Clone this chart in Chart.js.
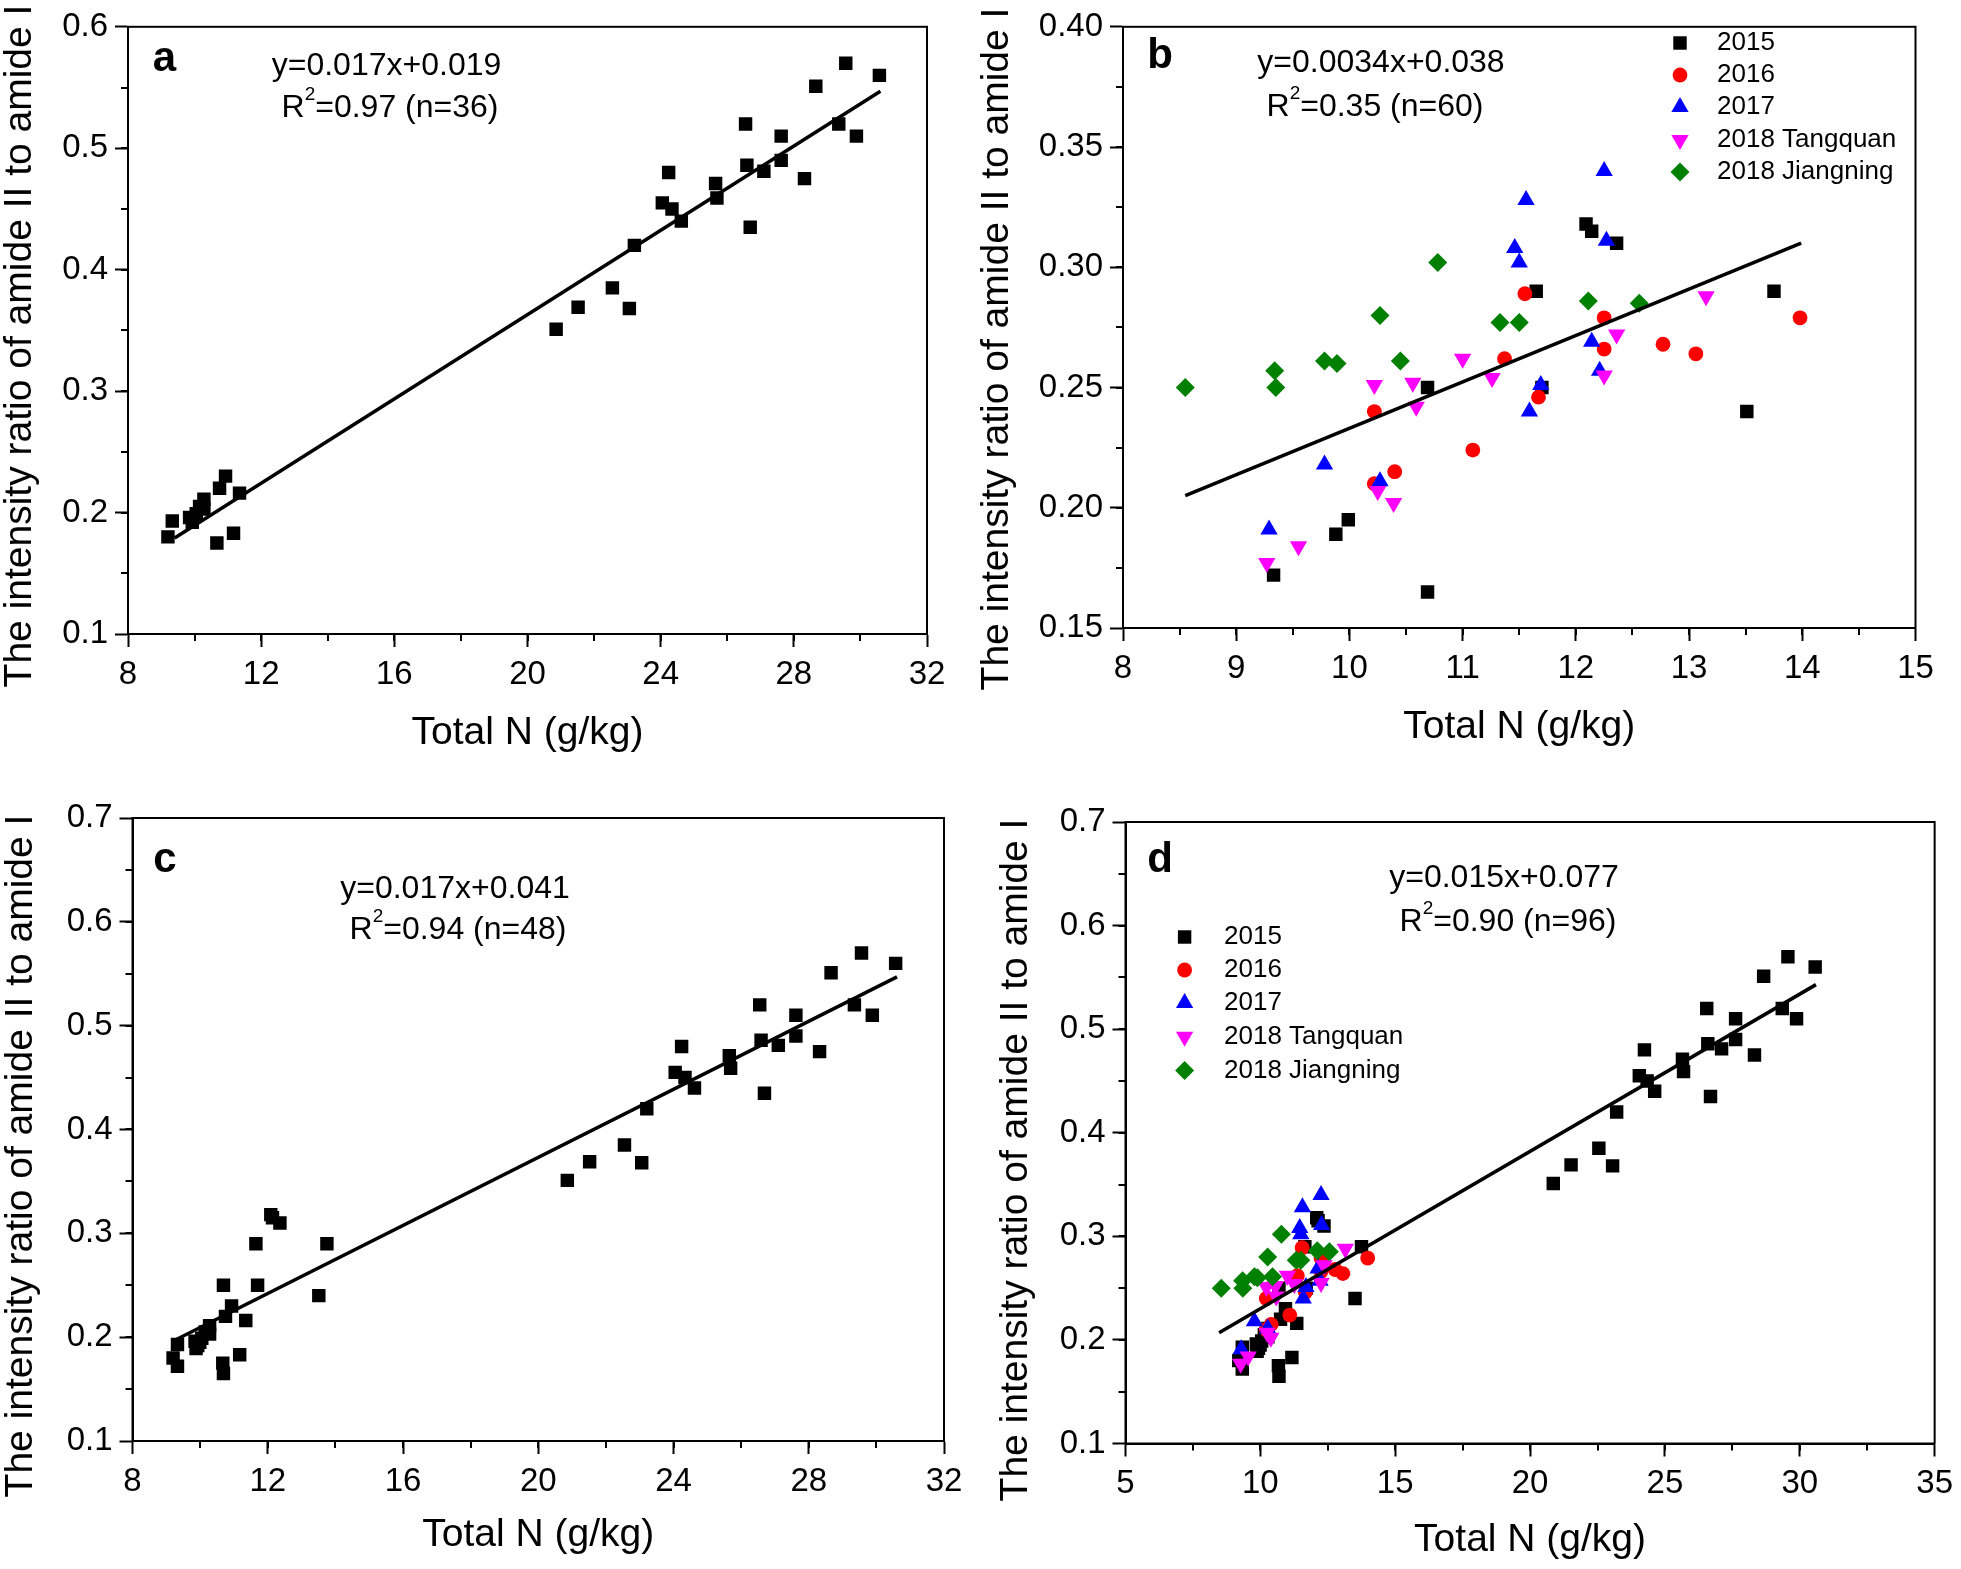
<!DOCTYPE html>
<html><head><meta charset="utf-8">
<script src="https://cdn.jsdelivr.net/npm/chart.js@4.4.1/dist/chart.umd.min.js"></script>
<style>
html,body{margin:0;padding:0;background:#fff;}
body{width:1961px;height:1569px;position:relative;overflow:hidden;}
canvas{position:absolute;}
</style>
</head><body>
<canvas id="ca" width="980" height="780" style="left:0;top:0;width:980px;height:780px"></canvas>
<canvas id="cb" width="981" height="780" style="left:980px;top:0;width:981px;height:780px"></canvas>
<canvas id="cc" width="980" height="789" style="left:0;top:780px;width:980px;height:789px"></canvas>
<canvas id="cd" width="981" height="789" style="left:980px;top:780px;width:981px;height:789px"></canvas>
<script>
const FONT = "'Liberation Sans', Arial, Helvetica, sans-serif";

// ---------- DATA ----------
// Panel a samples (n=36)
const setA_x = [9.20, 9.33, 9.85, 9.93, 10.05, 10.15, 10.28, 10.28, 10.75, 10.93, 11.35, 10.67, 11.17,
  20.86, 21.52, 22.55, 23.06, 23.21, 24.05, 24.24, 24.34, 24.62, 25.65, 25.69, 26.55, 26.59, 26.69,
  27.10, 27.62, 27.62, 28.32, 28.66, 29.35, 29.56, 29.88, 30.57];
const setA_y = [0.180, 0.193, 0.196, 0.192, 0.199, 0.205, 0.211, 0.203, 0.220, 0.230, 0.216, 0.175, 0.183,
  0.351, 0.369, 0.385, 0.368, 0.420, 0.455, 0.480, 0.450, 0.440, 0.471, 0.459, 0.520, 0.486, 0.435,
  0.481, 0.510, 0.490, 0.475, 0.551, 0.520, 0.570, 0.510, 0.560];

const y2015_x = [9.33, 9.88, 9.99, 10.69, 10.69, 11.65, 11.70, 12.09, 12.14, 12.36, 13.51, 13.75];
const y2015_y = [0.172, 0.189, 0.195, 0.250, 0.165, 0.290, 0.250, 0.318, 0.315, 0.310, 0.240, 0.290];

const y2016_x = [10.22, 10.22, 10.40, 11.09, 11.37, 11.55, 11.67, 12.25, 12.25, 12.77, 13.06, 13.98];
const y2016_y = [0.240, 0.210, 0.215, 0.224, 0.262, 0.289, 0.246, 0.279, 0.266, 0.268, 0.264, 0.279];

const y2017_x = [9.29, 9.78, 10.27, 11.46, 11.50, 11.56, 11.59, 11.69, 12.14, 12.21, 12.25, 12.27];
const y2017_y = [0.191, 0.218, 0.211, 0.308, 0.302, 0.328, 0.240, 0.251, 0.269, 0.257, 0.340, 0.311];

const y2018T_x = [9.27, 9.55, 10.22, 10.25, 10.39, 10.56, 10.59, 11.00, 11.26, 12.25, 12.36, 13.15];
const y2018T_y = [0.177, 0.184, 0.251, 0.207, 0.202, 0.252, 0.242, 0.262, 0.254, 0.255, 0.272, 0.288];

const y2018J_x = [8.55, 9.34, 9.35, 9.78, 9.89, 10.27, 10.45, 10.78, 11.33, 11.50, 12.11, 12.56];
const y2018J_y = [0.250, 0.257, 0.250, 0.261, 0.260, 0.280, 0.261, 0.302, 0.277, 0.277, 0.286, 0.285];

// regression line end points
const fitA_x = [9.40, 30.60], fitA_y = [0.179, 0.547];
const fitB_x = [8.55, 13.99], fitB_y = [0.205, 0.310];
const fitC_x = [9.31, 30.61], fitC_y = [0.198, 0.547];
const fitD_x = [8.47, 30.60], fitD_y = [0.207, 0.543];

const seriesNames = ['2015', '2016', '2017', '2018 Tangquan', '2018 Jiangning'];
const xTitle = 'Total N (g/kg)';
const yTitle = 'The intensity ratio of amide II to amide I';

// ---------- HELPERS ----------
const pts = (xs, ys) => xs.map((x, i) => ({x, y: ys[i]}));
const STY = {
  '2015': {pointStyle: 'rect', rotation: 0, r: 9.5, color: '#000000'},
  '2016': {pointStyle: 'circle', rotation: 0, r: 7.4, color: '#ff0000'},
  '2017': {pointStyle: 'triangle', rotation: 0, r: 10, color: '#0000ff'},
  '2018 Tangquan': {pointStyle: 'triangle', rotation: 180, r: 10, color: '#ff00ff'},
  '2018 Jiangning': {pointStyle: 'rectRot', rotation: 0, r: 9.5, color: '#008000'}
};
function scat(label, xs, ys, order) {
  const s = STY[label];
  return {label, data: pts(xs, ys), pointStyle: s.pointStyle, rotation: s.rotation,
    pointRadius: s.r, backgroundColor: s.color, borderColor: s.color, borderWidth: 0, order};
}
function fit(xs, ys) {
  return {label: 'fit', data: pts(xs, ys), showLine: true, borderColor: '#000', borderWidth: 3.5,
    pointRadius: 0, fill: false, order: 0};
}

function marker(ctx, style, rot, r, x, y, color) {
  ctx.save(); ctx.fillStyle = color; ctx.beginPath();
  if (style === 'circle') ctx.arc(x, y, r, 0, 2 * Math.PI);
  else if (style === 'rect') { const s = Math.SQRT1_2 * r; ctx.rect(x - s, y - s, 2 * s, 2 * s); }
  else if (style === 'rectRot') { ctx.moveTo(x - r, y); ctx.lineTo(x, y - r); ctx.lineTo(x + r, y); ctx.lineTo(x, y + r); ctx.closePath(); }
  else if (style === 'triangle') {
    let a = rot * Math.PI / 180;
    for (let i = 0; i < 3; i++) {
      const px = x + Math.sin(a) * r, py = y - Math.cos(a) * r;
      if (i) ctx.lineTo(px, py); else ctx.moveTo(px, py);
      a += 2 * Math.PI / 3;
    }
    ctx.closePath();
  }
  ctx.fill(); ctx.restore();
}

function drawParts(ctx, cx, cy, parts, size) {
  const fontN = size + 'px ' + FONT, fontS = Math.round(size * 0.6) + 'px ' + FONT;
  let total = 0;
  parts.forEach(p => { ctx.font = p.sup ? fontS : fontN; p.w = ctx.measureText(p.t).width; total += p.w; });
  let x = cx - total / 2;
  ctx.textAlign = 'left'; ctx.textBaseline = 'middle';
  parts.forEach(p => {
    ctx.font = p.sup ? fontS : fontN;
    ctx.fillText(p.t, x, p.sup ? cy - size * 0.42 : cy);
    x += p.w;
  });
}

const decorPlugin = {
  id: 'decor',
  afterDraw(chart) {
    const o = chart.options.plugins.decor;
    const ctx = chart.ctx, a = chart.chartArea;
    const xs = chart.scales.x, ys = chart.scales.y;
    ctx.save();
    ctx.strokeStyle = '#000'; ctx.lineWidth = 2;
    // frame
    ctx.strokeRect(a.left, a.top, a.right - a.left, a.bottom - a.top);
    // minor ticks
    for (let i = 1; ; i++) {
      const v = xs.min + i * o.xMinor; if (v > xs.max - 1e-9) break;
      const p = Math.round(xs.getPixelForValue(v));
      ctx.beginPath(); ctx.moveTo(p, a.bottom); ctx.lineTo(p, a.bottom + 7); ctx.stroke();
    }
    for (let i = 1; ; i++) {
      const v = ys.min + i * o.yMinor; if (v > ys.max - 1e-9) break;
      const p = Math.round(ys.getPixelForValue(v));
      ctx.beginPath(); ctx.moveTo(a.left, p); ctx.lineTo(a.left - 7, p); ctx.stroke();
    }
    ctx.fillStyle = '#000';
    // y title
    ctx.save();
    ctx.translate(o.yTitle.x, o.yTitle.y); ctx.rotate(-Math.PI / 2);
    ctx.font = '39px ' + FONT; ctx.textAlign = 'center'; ctx.textBaseline = 'middle';
    ctx.fillText(yTitle, 0, 0);
    ctx.restore();
    // panel letter
    ctx.font = 'bold 42px ' + FONT; ctx.textAlign = 'center'; ctx.textBaseline = 'middle';
    ctx.fillText(o.letter.t, o.letter.x, o.letter.y);
    // equation + R2
    drawParts(ctx, o.eq.x, o.eq.y, [{t: o.eq.t}], 32);
    drawParts(ctx, o.r2.x, o.r2.y, [{t: 'R'}, {t: '2', sup: true}, {t: o.r2.t}], 32);
    // legend
    if (o.legend) {
      const L = o.legend;
      seriesNames.forEach((n, i) => {
        const s = STY[n];
        marker(ctx, s.pointStyle, s.rotation, s.r, L.mx, L.rows[i], s.color);
        ctx.fillStyle = '#000';
        ctx.font = '26px ' + FONT; ctx.textAlign = 'left'; ctx.textBaseline = 'middle';
        ctx.fillText(n, L.tx, L.rows[i]);
      });
    }
    ctx.restore();
  }
};

function panel(id, g, ax, datasets, deco) {
  const W = g.w, H = g.h;
  return new Chart(document.getElementById(id), {
    type: 'scatter',
    data: {datasets},
    options: {
      responsive: false, animation: false, devicePixelRatio: 1,
      layout: {padding: {left: 0, top: g.top, right: W - g.right, bottom: H - g.scaleBottom}},
      plugins: {legend: {display: false}, tooltip: {enabled: false}, decor: deco},
      scales: {
        x: {
          type: 'linear', position: 'bottom', min: ax.xmin, max: ax.xmax,
          ticks: {stepSize: ax.xstep, autoSkip: false, maxRotation: 0, color: '#000',
            font: {family: FONT, size: 33}, padding: 8, callback: v => (+v).toFixed(0)},
          grid: {drawOnChartArea: false, drawTicks: true, tickLength: 13, tickWidth: 2, tickColor: '#000'},
          border: {display: true, color: '#000', width: 2},
          title: {display: true, text: xTitle, color: '#000', font: {family: FONT, size: 39, lineHeight: 1}, padding: 0},
          afterFit: s => { s.height = g.scaleBottom - g.bottom; }
        },
        y: {
          type: 'linear', position: 'left', min: ax.ymin, max: ax.ymax,
          ticks: {stepSize: ax.ystep, autoSkip: false, color: '#000',
            font: {family: FONT, size: 33}, padding: 7, callback: v => (+v).toFixed(ax.ydec)},
          grid: {drawOnChartArea: false, drawTicks: true, tickLength: 13, tickWidth: 2, tickColor: '#000'},
          border: {display: true, color: '#000', width: 2},
          title: {display: false},
          afterFit: s => { s.width = g.left; }
        }
      }
    },
    plugins: [decorPlugin]
  });
}

// ---------- PANELS ----------
panel('ca', {w: 980, h: 780, left: 128, right: 927, top: 19.5, bottom: 634, scaleBottom: 752.5},
  {xmin: 8, xmax: 32, xstep: 4, ymin: 0.1, ymax: 0.6, ystep: 0.1, ydec: 1},
  [scat('2015', setA_x, setA_y, 1), fit(fitA_x, fitA_y)],
  {xMinor: 2, yMinor: 0.05, yTitle: {x: 20, y: 346}, letter: {t: 'a', x: 164.5, y: 59},
   eq: {t: 'y=0.017x+0.019', x: 386.5, y: 66}, r2: {t: '=0.97 (n=36)', x: 390, y: 108}});

panel('cb', {w: 981, h: 780, left: 143, right: 935.5, top: 21, bottom: 628, scaleBottom: 746.5},
  {xmin: 8, xmax: 15, xstep: 1, ymin: 0.15, ymax: 0.40, ystep: 0.05, ydec: 2},
  [scat('2015', y2015_x, y2015_y, 5), scat('2016', y2016_x, y2016_y, 4), scat('2017', y2017_x, y2017_y, 3),
   scat('2018 Tangquan', y2018T_x, y2018T_y, 2), scat('2018 Jiangning', y2018J_x, y2018J_y, 1), fit(fitB_x, fitB_y)],
  {xMinor: 0.5, yMinor: 0.025, yTitle: {x: 17.5, y: 349}, letter: {t: 'b', x: 180, y: 56},
   eq: {t: 'y=0.0034x+0.038', x: 401, y: 63}, r2: {t: '=0.35 (n=60)', x: 395, y: 107.6},
   legend: {mx: 700, tx: 737, rows: [43, 75, 107, 140, 172]}});

panel('cc', {w: 980, h: 789, left: 132.5, right: 944, top: 38, bottom: 661, scaleBottom: 775},
  {xmin: 8, xmax: 32, xstep: 4, ymin: 0.1, ymax: 0.7, ystep: 0.1, ydec: 1},
  [scat('2015', setA_x.concat(y2015_x), setA_y.concat(y2015_y), 1), fit(fitC_x, fitC_y)],
  {xMinor: 2, yMinor: 0.05, yTitle: {x: 21, y: 376}, letter: {t: 'c', x: 165, y: 80},
   eq: {t: 'y=0.017x+0.041', x: 455, y: 109}, r2: {t: '=0.94 (n=48)', x: 458, y: 150}});

panel('cd', {w: 981, h: 789, left: 145.5, right: 956, top: 42, bottom: 663.5, scaleBottom: 779.5},
  {xmin: 5, xmax: 35, xstep: 5, ymin: 0.1, ymax: 0.7, ystep: 0.1, ydec: 1},
  [scat('2015', setA_x.concat(y2015_x), setA_y.concat(y2015_y), 5), scat('2016', y2016_x, y2016_y, 4),
   scat('2017', y2017_x, y2017_y, 3), scat('2018 Tangquan', y2018T_x, y2018T_y, 2),
   scat('2018 Jiangning', y2018J_x, y2018J_y, 1), fit(fitD_x, fitD_y)],
  {xMinor: 2.5, yMinor: 0.05, yTitle: {x: 36.5, y: 380}, letter: {t: 'd', x: 180, y: 80.5},
   eq: {t: 'y=0.015x+0.077', x: 524, y: 98}, r2: {t: '=0.90 (n=96)', x: 528, y: 142},
   legend: {mx: 204.6, tx: 244, rows: [157, 190, 223, 256.7, 290.4]}});
</script>
</body></html>
